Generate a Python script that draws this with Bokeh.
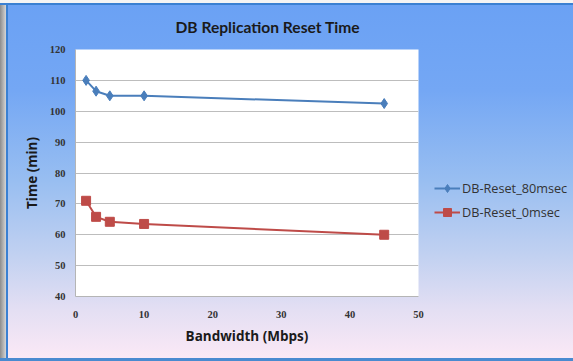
from bokeh.plotting import figure
from bokeh.layouts import row
from bokeh.models import Range1d, FixedTicker, Legend, LegendItem
from bokeh.embed import file_html
from bokeh.resources import INLINE

# Data
bandwidth = [1.544, 3, 5, 10, 45]
reset_80msec = [110, 106.5, 105, 105, 102.5]
reset_0msec = [71, 65.8, 64.2, 63.5, 60]
x_ticks = [0, 10, 20, 30, 40, 50]
y_ticks = [40, 50, 60, 70, 80, 90, 100, 110, 120]

title_text = "DB Replication Reset Time"
x_label = "Bandwidth (Mbps)"
y_label = "Time (min)"
series_names = ["DB-Reset_80msec", "DB-Reset_0msec"]

blue = "#4a7ebb"
red = "#be4b48"

# ---- main chart ----
p = figure(width=430, height=361, output_backend="svg", toolbar_location=None,
           x_range=Range1d(0, 50), y_range=Range1d(40, 120),
           min_border_left=75, min_border_right=12, min_border_top=49,
           min_border_bottom=65)
p.border_fill_alpha = 0
p.background_fill_color = "white"
p.outline_line_color = None

p.title.text = title_text
p.title.text_font = "Lato"
p.title.text_font_size = "15.6px"
p.title.text_font_style = "bold"
p.title.text_color = "#1a1a1a"
p.title.align = "left"
p.title.offset = 100
p.title.vertical_align = "middle"
p.title.text_baseline = "middle"
p.title.standoff = 25

for ax in (p.xaxis[0], p.yaxis[0]):
    ax.axis_line_color = "#b5b5b5"
    ax.major_tick_line_color = None
    ax.minor_tick_line_color = None
    ax.major_tick_out = 0
    ax.major_tick_in = 0
    ax.minor_tick_out = 0
    ax.minor_tick_in = 0
    ax.major_label_text_font = "Liberation Serif"
    ax.major_label_text_font_style = "bold"
    ax.major_label_text_font_size = "10.5px"
    ax.major_label_text_color = "#333333"
    ax.axis_label_text_font = "Open Sans"
    ax.axis_label_text_font_style = "bold"
    ax.axis_label_text_font_size = "13.5px"
    ax.axis_label_text_color = "#1a1a1a"

p.xaxis.ticker = FixedTicker(ticks=x_ticks)
p.yaxis.ticker = FixedTicker(ticks=y_ticks)
p.xaxis.axis_label = x_label
p.yaxis.axis_label = y_label
p.xaxis.major_label_standoff = 14
p.xaxis.axis_label_standoff = 6
p.yaxis.major_label_standoff = 10
p.yaxis.axis_label_standoff = 6

p.xgrid.grid_line_color = None
p.ygrid.grid_line_color = "#bdbdbd"

p.line(bandwidth, reset_80msec, line_color=blue, line_width=2)
p.scatter(bandwidth, reset_80msec, marker="diamond", size=10,
          fill_color=blue, line_color=blue)
p.line(bandwidth, reset_0msec, line_color=red, line_width=2)
p.scatter(bandwidth, reset_0msec, marker="square", size=9,
          fill_color=red, line_color=red)

# ---- legend panel (own figure; its series lie outside its view) ----
q = figure(width=143, height=361, output_backend="svg", toolbar_location=None,
           x_axis_location=None, y_axis_location=None,
           x_range=Range1d(-2, -1), y_range=Range1d(-2, -1),
           min_border=0)
q.border_fill_alpha = 0
q.background_fill_alpha = 0
q.outline_line_color = None
q.grid.visible = False

k1 = q.line(bandwidth, reset_80msec, line_color=blue, line_width=2)
k1m = q.scatter(bandwidth, reset_80msec, marker="diamond", size=8,
                fill_color=blue, line_color=blue)
k2 = q.line(bandwidth, reset_0msec, line_color=red, line_width=2)
k2m = q.scatter(bandwidth, reset_0msec, marker="square", size=7,
                fill_color=red, line_color=red)

legend = Legend(items=[LegendItem(label=series_names[0], renderers=[k1, k1m]),
                       LegendItem(label=series_names[1], renderers=[k2, k2m])],
                location=(4, 74))
legend.background_fill_alpha = 0
legend.border_line_color = None
legend.padding = 0
legend.margin = 0
legend.spacing = 4
legend.glyph_width = 26
legend.glyph_height = 20
legend.label_height = 20
legend.label_standoff = 2
legend.label_text_font = "Open Sans"
legend.label_text_font_size = "12.7px"
legend.label_text_color = "#333333"
q.add_layout(legend)

layout = row(p, q, spacing=0)
layout.styles = {
    "background": (
        "linear-gradient(#f4f4f4,#f4f4f4) 0 0 / 100% 3px no-repeat, "
        "linear-gradient(#3a80d2,#3a80d2) 0 3px / 100% 2px no-repeat, "
        "linear-gradient(#4a8ad0,#4a8ad0) 0 358px / 100% 3px no-repeat, "
        "linear-gradient(#3a80d2,#3a80d2) 6px 0 / 2px 100% no-repeat, "
        "linear-gradient(to right, #8c8c8c, #d5d5d5) 0 0 / 6px 100% no-repeat, "
        "linear-gradient(to bottom, #6aa1f4 0%, #74a7f4 25%, #98bef1 50%, "
        "#c4d2f1 72%, #e4dff3 86%, #fce9f6 100%)"
    ),
}

open("out.html", "w").write(file_html(layout, INLINE))
